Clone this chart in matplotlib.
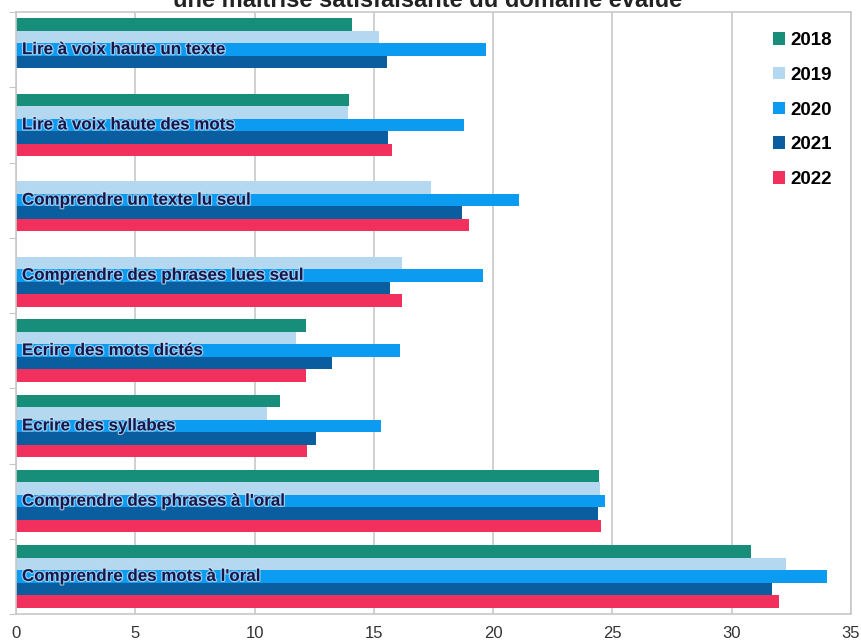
import matplotlib.pyplot as plt
import matplotlib.patheffects as pe
import numpy as np

plt.rcParams['font.family'] = ['Liberation Sans', 'DejaVu Sans']

categories = [
    "Lire à voix haute un texte",
    "Lire à voix haute des mots",
    "Comprendre un texte lu seul",
    "Comprendre des phrases lues seul",
    "Ecrire des mots dictés",
    "Ecrire des syllabes",
    "Comprendre des phrases à l'oral",
    "Comprendre des mots à l'oral",
]
years = ["2018", "2019", "2020", "2021", "2022"]
# nan = pas de valeur cette année-là
v2018 = [14.07, 13.97, np.nan, np.nan, 12.15, 11.06, 24.43, 30.79]
v2019 = [15.2, 13.93, 17.38, 16.16, 11.74, 10.5, 24.48, 32.27]
v2020 = [19.7, 18.78, 21.1, 19.59, 16.09, 15.3, 24.69, 34.0]
v2021 = [15.54, 15.58, 18.7, 15.67, 13.26, 12.57, 24.38, 31.7]
v2022 = [np.nan, 15.75, 19.0, 16.2, 12.15, 12.18, 24.52, 31.99]
series = [v2018, v2019, v2020, v2021, v2022]
colors = ["#178e79", "#b3d8ef", "#0b9bf0", "#0a5e9f", "#f2305e"]

fig = plt.figure(figsize=(8.61, 6.43), dpi=100)
ax = fig.add_axes([16/861, 1 - 614/643, 835/861, 602/643])

y = np.arange(len(categories))
h = 0.166
for j, vals in enumerate(series):
    v = np.array(vals, dtype=float)
    ok = ~np.isnan(v)
    ax.barh(y[ok] + (j - 2) * h, v[ok], height=h, color=colors[j],
            label=years[j], zorder=2)

for i, cat in enumerate(categories):
    ax.text(0.25, y[i], cat, ha='left', va='center', fontsize=12.2,
            fontweight='bold', color='#16164a', zorder=4,
            path_effects=[pe.withStroke(linewidth=1.8, foreground='#cfe3f2', alpha=0.7)])

ax.set_xlim(0, 35)
ax.set_ylim(len(categories) - 0.5, -0.5)
ax.set_xticks(range(0, 36, 5))
ax.set_yticks(np.arange(-0.5, len(categories) + 0.5, 1))
ax.set_yticklabels([])
ax.tick_params(axis='y', length=5, color='#c8c8c8', direction='out')
ax.tick_params(axis='x', length=0, labelsize=12, labelcolor='#333333', pad=9)
ax.grid(axis='x', color='#c8c8c8', linewidth=1.2, zorder=0)
ax.set_axisbelow(True)
for s in ax.spines.values():
    s.set_color('#c8c8c8')
    s.set_linewidth(1.2)

leg = ax.legend(loc='upper right', bbox_to_anchor=(0.998, 0.995), frameon=False,
                handlelength=0.65, handleheight=0.65, handletextpad=0.3,
                labelspacing=0.95, borderaxespad=0.5,
                prop={'weight': 'bold', 'size': 13.5})

# titre coupé en haut comme sur l'original
fig.text(0.497, 1 - 7/643, "une maîtrise satisfaisante du domaine évalué", ha='center',
         va='baseline', fontsize=17, fontweight='bold', color='#222222')

fig.savefig("out.png", dpi=100)
